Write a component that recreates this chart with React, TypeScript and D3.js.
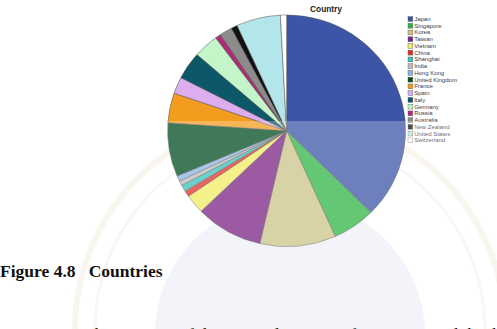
import React from "react";
import * as d3 from "d3";

const countries = [
  "Japan", "Singapore", "Korea", "Taiwan", "Vietnam", "China", "Shanghai", "India",
  "Hong Kong", "United Kingdom", "France", "Spain", "Italy", "Germany", "Russia",
  "Australia", "New Zealand", "United States", "Switzerland",
];
const counts = [45, 7, 12.4, 11, 3.2, 1, 1.1, 0.8, 0.9, 9, 5, 2.8, 4.6, 4.1, 0.9, 2.1, 1, 7.2, 1];
const colors = [
  "#3c55a7", "#30b545", "#cbc588", "#7a2382", "#f1eb63", "#e0302a", "#37c1bb", "#bbbbbb",
  "#8cb4e4", "#004d20", "#f39c1e", "#dcaef0", "#0c5868", "#c4f5c8", "#b02c78",
  "#8c8c8c", "#111111", "#b3e6ea", "#ffffff",
];
const chartTitle = "Country";
const caption = "Figure 4.8   Countries";
const paragraph = "The majority of the respondents were from Japan and this has a relation i";

export default function App() {
  const W = 497, H = 329;
  const cx = 286.6, cy = 130.8, r = 119, ry = 115.8;
  const data = countries.map((c, i) => ({ name: c, value: counts[i], color: colors[i] }));
  const pie = d3.pie<any>().value((d: any) => d.value).sort(null).startAngle(0).endAngle(2 * Math.PI);
  const arcs = pie(data);
  const arc = d3.arc<any>().innerRadius(0).outerRadius(r);
  const legendY = d3.scaleLinear().domain([0, countries.length - 1]).range([19, 140.3]);

  return (
    <svg width={W} height={H} style={{ position: "absolute", left: 0, top: 0, background: "#fff" }}>
      <rect x={0} y={0} width={W} height={H} fill="#fff" />
      {/* faint watermark behind */}
      <g>
        <circle cx={290} cy={335} r={135} fill="#eef0f8" />
        <circle cx={290} cy={330} r={215} fill="none" stroke="#f6f3e8" strokeWidth={6} />
        <circle cx={290} cy={330} r={195} fill="none" stroke="#f7f5ec" strokeWidth={3} />
      </g>
      <text x={326} y={11.5} textAnchor="middle" fontFamily="Liberation Sans, Arial, sans-serif"
        fontWeight="bold" fontSize={8.3} fill="#222">{chartTitle}</text>
      <g transform={`translate(${cx},${cy}) scale(1,${ry / r})`}>
        {arcs.map((a, i) => (
          <path key={i} d={arc(a) as string} fill={a.data.color} stroke="#4a4a4a"
            strokeWidth={0.5} vectorEffect="non-scaling-stroke" />
        ))}
      </g>
      <g>
        {data.map((d, i) => (
          <g key={i} transform={`translate(408,${legendY(i)})`}>
            <rect x={0} y={-2.4} width={4.8} height={4.8} fill={d.color} stroke="#555" strokeWidth={0.4} />
            <text x={6.2} y={2} fontFamily="Liberation Sans, Arial, sans-serif" fontSize={6}
              fill="#3a3a4a">{d.name}</text>
          </g>
        ))}
      </g>
      <rect x={0} y={121} width={W} height={H - 121} fill="#fff" opacity={0.25} />
      <text x={0} y={277} fontFamily="Liberation Serif, Times New Roman, serif" fontWeight="bold"
        fontSize={17.5} fill="#111" xmlSpace="preserve">{caption}</text>
      <text x={84} y={340} fontFamily="Liberation Serif, Times New Roman, serif"
        fontSize={17.5} fill="#111">{paragraph}</text>
    </svg>
  );
}
